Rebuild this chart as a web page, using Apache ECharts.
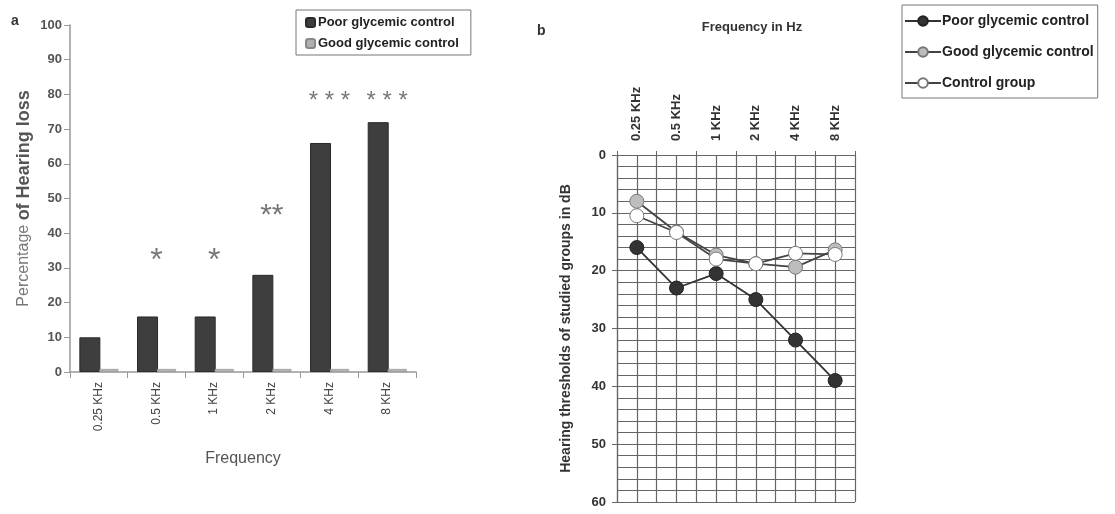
<!DOCTYPE html>
<html>
<head>
<meta charset="utf-8">
<script src="https://cdn.jsdelivr.net/npm/echarts@6/dist/echarts.min.js"></script>
<style>
html,body{margin:0;padding:0;background:#fff;}
#c{width:1115px;height:514px;}
</style>
</head>
<body>
<div id="c"></div>
<script>
// ---- data ----
var categories = ['0.25 KHz', '0.5 KHz', '1 KHz', '2 KHz', '4 KHz', '8 KHz'];
var poorPct = [10, 16, 16, 28, 66, 72];
var goodPct = [0, 0, 0, 0, 0, 0];
var sigLabels = ['', '*', '*', '**', '* * *', '* * *'];
var sigY = [null, 32, 32, 45, 78, 78];
var leftTicks = [0, 10, 20, 30, 40, 50, 60, 70, 80, 90, 100];

var poorDb = [16, 23, 20.5, 25, 32, 39];
var goodDb = [8, 13.3, 17.3, 18.8, 19.4, 16.4];
var controlDb = [10.5, 13.4, 18, 18.8, 17, 17.2];
var rightTicks = [0, 10, 20, 30, 40, 50, 60];

var barNames = ['Poor glycemic control', 'Good glycemic control'];
// line-chart series carry a trailing space so each legend picks its own series
var lineNames = ['Poor glycemic control ', 'Good glycemic control ', 'Control group '];

var FONT = 'Liberation Sans, Arial, sans-serif';
var chart = echarts.init(document.getElementById('c'));

var sigFont = {'*': 32, '**': 30, '* * *': 24};

var option = {
  animation: false,
  textStyle: {fontFamily: FONT},
  title: [
    {text: 'a', left: 11, top: 14, padding: 0, textStyle: {fontFamily: FONT, fontSize: 14, fontWeight: 'bold', color: '#333'}},
    {text: 'b', left: 537, top: 24, padding: 0, textStyle: {fontFamily: FONT, fontSize: 14, fontWeight: 'bold', color: '#333'}},
    {text: 'Frequency in Hz', left: 752, textAlign: 'center', top: 21, padding: 0, textStyle: {fontFamily: FONT, fontSize: 13, fontWeight: 'bold', color: '#333'}}
  ],
  legend: [
    {
      data: barNames,
      orient: 'vertical', left: 296, top: 10,
      padding: [6, 12, 5, 9],
      itemWidth: 9, itemHeight: 9, itemGap: 8,
      borderColor: '#777', borderWidth: 1,
      textStyle: {fontFamily: FONT, fontSize: 13, fontWeight: 'bold', color: '#222', padding: [0, 0, 0, -2]}
    },
    {
      data: lineNames,
      orient: 'vertical', left: 902, top: 5,
      padding: [9, 4, 8, 2],
      itemWidth: 36, itemHeight: 12, itemGap: 17,
      borderColor: '#777', borderWidth: 1,
      formatter: function (n) { return n.trim(); },
      textStyle: {fontFamily: FONT, fontSize: 14, fontWeight: 'bold', color: '#222', padding: [0, 0, 0, -4]}
    }
  ],
  grid: [
    {left: 70, top: 25, right: 699, bottom: 142},
    {left: 617, top: 155, right: 260, bottom: 12}
  ],
  xAxis: [
    {
      type: 'category', gridIndex: 0, data: categories,
      name: 'Frequency', nameLocation: 'middle', nameGap: 79,
      nameTextStyle: {fontFamily: FONT, fontSize: 16, color: '#555'},
      axisLine: {lineStyle: {color: '#999', width: 1.5}},
      axisTick: {show: true, length: 6, lineStyle: {color: '#999'}},
      axisLabel: {rotate: 90, interval: 0, margin: 10, fontFamily: FONT, fontSize: 12, color: '#444'}
    },
    {
      type: 'category', gridIndex: 1, data: categories, position: 'top',
      boundaryGap: true,
      axisLine: {lineStyle: {color: '#666', width: 1.2}},
      axisTick: {show: true, length: 4, lineStyle: {color: '#666'}},
      axisLabel: {rotate: 90, interval: 0, margin: 14, fontFamily: FONT, fontSize: 13, fontWeight: 'bold', color: '#333'},
      splitLine: {show: false}
    },
    {
      type: 'value', gridIndex: 1, min: 0, max: 12, interval: 1,
      axisLine: {show: false}, axisTick: {show: false}, axisLabel: {show: false},
      splitLine: {show: true, lineStyle: {color: '#666', width: 1.2}}
    }
  ],
  yAxis: [
    {
      type: 'value', gridIndex: 0, min: 0, max: 100, interval: 10,
      name: '{n|Percentage }{b|of Hearing loss}',
      nameLocation: 'middle', nameGap: 37,
      nameTextStyle: {
        rich: {
          n: {fontFamily: FONT, fontSize: 16, color: '#777'},
          b: {fontFamily: FONT, fontSize: 18, fontWeight: 'bold', color: '#555'}
        }
      },
      axisLine: {show: true, lineStyle: {color: '#999', width: 1.5}},
      axisTick: {show: true, length: 6, lineStyle: {color: '#999'}},
      axisLabel: {margin: 8, fontFamily: FONT, fontSize: 13, fontWeight: 'bold', color: '#555',
        formatter: function (v) { return leftTicks.indexOf(v) >= 0 ? String(v) : ''; }},
      splitLine: {show: false}
    },
    {
      type: 'value', gridIndex: 1, min: 0, max: 60, interval: 10, inverse: true,
      name: 'Hearing thresholds of studied groups in dB',
      nameLocation: 'middle', nameGap: 44,
      nameTextStyle: {fontFamily: FONT, fontSize: 14, fontWeight: 'bold', color: '#333'},
      axisLine: {show: true, lineStyle: {color: '#666', width: 1.2}},
      axisTick: {show: true, length: 5, lineStyle: {color: '#666'}},
      axisLabel: {margin: 11, fontFamily: FONT, fontSize: 13, fontWeight: 'bold', color: '#333',
        formatter: function (v) { return rightTicks.indexOf(v) >= 0 ? String(v) : ''; }},
      splitLine: {show: true, lineStyle: {color: '#666', width: 1.2}},
      minorTick: {show: false, splitNumber: 5},
      minorSplitLine: {show: true, lineStyle: {color: '#666', width: 1.2}}
    }
  ],
  series: [
    {
      name: barNames[0], type: 'bar', xAxisIndex: 0, yAxisIndex: 0,
      data: poorPct, barWidth: 21, barGap: '-5%',
      itemStyle: {color: '#3e3e3e', borderColor: '#2a2a2a', borderWidth: 1}
    },
    {
      name: barNames[1], type: 'bar', xAxisIndex: 0, yAxisIndex: 0,
      data: goodPct, barWidth: 19, barMinHeight: 3,
      itemStyle: {color: '#b0b0b0', borderColor: '#888', borderWidth: 0.5}
    },
    {
      name: 'sig', type: 'scatter', xAxisIndex: 0, yAxisIndex: 0,
      symbolSize: 0, silent: true,
      data: sigY.map(function (y, i) {
        return {
          value: [i, y],
          label: {show: !!sigLabels[i], formatter: sigLabels[i], position: 'inside',
            fontFamily: FONT, fontSize: sigFont[sigLabels[i]] || 24, color: '#555'}
        };
      })
    },
    {
      name: lineNames[0], type: 'line', xAxisIndex: 1, yAxisIndex: 1,
      data: poorDb, symbol: 'circle', symbolSize: 14,
      lineStyle: {color: '#333', width: 1.8},
      itemStyle: {color: '#333', borderColor: '#222', borderWidth: 1}
    },
    {
      name: lineNames[1], type: 'line', xAxisIndex: 1, yAxisIndex: 1,
      data: goodDb, symbol: 'circle', symbolSize: 14,
      lineStyle: {color: '#444', width: 1.8},
      itemStyle: {color: '#bdbdbd', borderColor: '#777', borderWidth: 1}
    },
    {
      name: lineNames[2], type: 'line', xAxisIndex: 1, yAxisIndex: 1,
      data: controlDb, symbol: 'circle', symbolSize: 14,
      lineStyle: {color: '#444', width: 1.8},
      itemStyle: {color: '#ffffff', borderColor: '#777', borderWidth: 1}
    }
  ]
};
chart.setOption(option);
</script>
</body>
</html>
